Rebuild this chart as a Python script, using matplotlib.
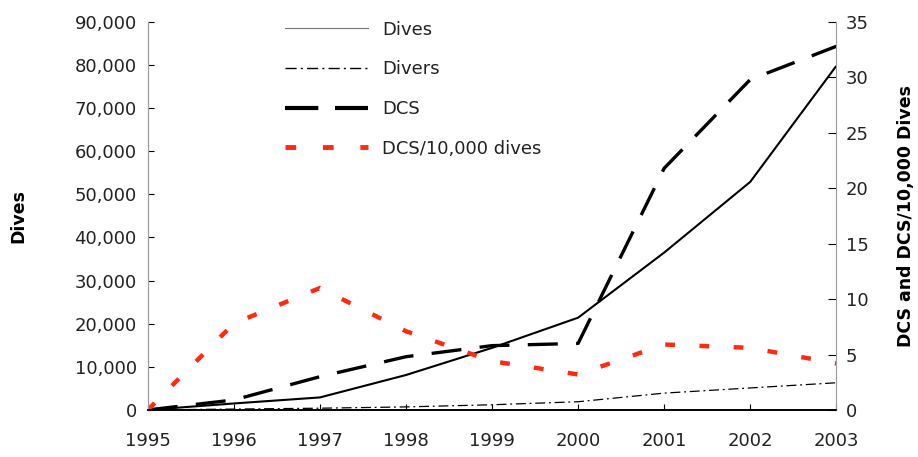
import matplotlib
matplotlib.use("Agg")
import matplotlib.pyplot as plt
from matplotlib.lines import Line2D
from matplotlib.ticker import FuncFormatter

plt.rcParams['font.family'] = ['DejaVu Sans']

years = [1995, 1996, 1997, 1998, 1999, 2000, 2001, 2002, 2003]
dives = [0, 1500, 2900, 8100, 14400, 21400, 36500, 52900, 79800]
divers = [0, 200, 400, 700, 1200, 1900, 3900, 5100, 6300]
dcs = [0, 0.9, 3.0, 4.8, 5.8, 6.0, 21.8, 29.8, 32.8]
dcs_rate = [0, 7.8, 11.0, 7.1, 4.4, 3.2, 5.9, 5.6, 4.2]

fig = plt.figure(figsize=(9.18, 4.57), dpi=100)
ax = fig.add_axes([0.161, 0.103, 0.750, 0.849])
ax2 = ax.twinx()

ax.plot(years, dives, color='black', lw=1.5, solid_capstyle='butt')
ax.plot(years, divers, color='black', lw=0.9, dashes=(8, 3, 1.5, 3))
ax2.plot(years, dcs, color='black', lw=2.4, dashes=(9, 5.5), dash_capstyle='butt')
ax2.plot(years, dcs_rate, color='#ff2a10', lw=3.2, dashes=(2.2, 5.5), dash_capstyle='butt')

ax.set_xlim(1995, 2003)
ax.set_ylim(0, 90000)
ax2.set_ylim(0, 35)
ax.set_xticks(years)
ax.set_yticks(range(0, 90001, 10000))
ax2.set_yticks(range(0, 36, 5))
ax.yaxis.set_major_formatter(FuncFormatter(lambda v, p: f"{int(v):,}"))

fs = 13
ax.tick_params(axis='y', direction='in', length=4, labelsize=fs, pad=8, colors='black')
ax.tick_params(axis='x', direction='in', length=4, labelsize=fs, pad=16)
ax2.tick_params(axis='y', direction='in', length=6, labelsize=fs, pad=7)
for a in (ax, ax2):
    a.spines['top'].set_visible(False)
    a.tick_params(labelcolor='#222222')
ax.spines['left'].set_color('#9a9a9a')
ax2.spines['left'].set_color('#9a9a9a')
ax2.spines['right'].set_color('#9a9a9a')
ax.spines['right'].set_visible(False)
ax2.spines['bottom'].set_linewidth(1.2)
ax.spines['bottom'].set_linewidth(1.2)

ax.set_ylabel('Dives', fontsize=12.5, fontweight='bold', labelpad=34)
ax2.set_ylabel('DCS and DCS/10,000 Dives', fontsize=12.5, fontweight='bold', labelpad=20)

handles = [
    Line2D([], [], color='#777777', lw=0.8),
    Line2D([], [], color='black', lw=1.0, dashes=(8, 3, 1.5, 3)),
    Line2D([], [], color='black', lw=3.0, dashes=(8, 4), dash_capstyle='butt'),
    Line2D([], [], color='#ff2a10', lw=3.5, dashes=(2.2, 5.5), dash_capstyle='butt'),
]
labels = ['Dives', 'Divers', 'DCS', 'DCS/10,000 dives']
leg = ax.legend(handles, labels, loc='upper left', bbox_to_anchor=(0.175, 1.045),
                frameon=False, fontsize=13, handlelength=4.6, handletextpad=0.8,
                labelspacing=1.2, labelcolor='#222222')

fig.savefig('out.png', dpi=100)
